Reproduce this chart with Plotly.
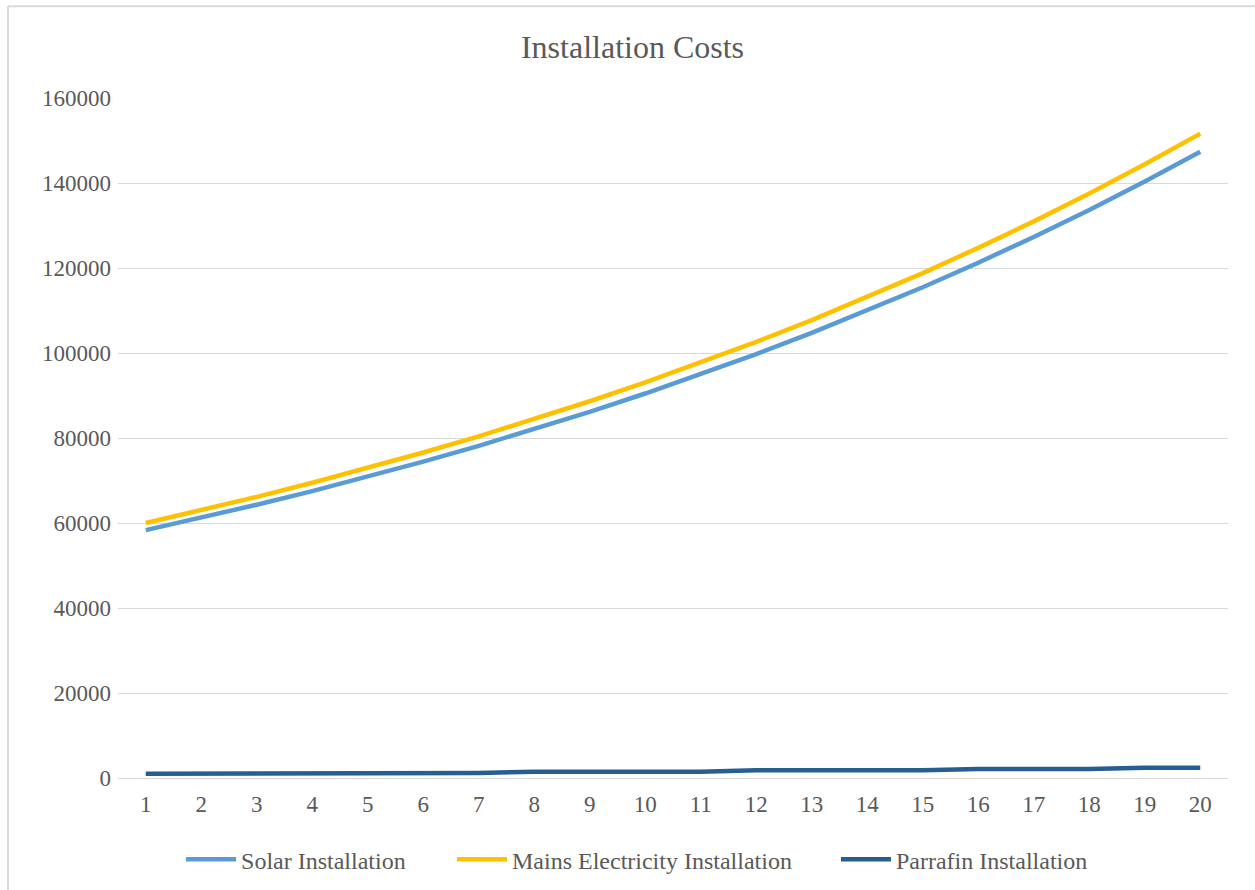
import plotly.graph_objects as go

# Year index for the 20-year cost horizon
years = list(range(1, 21))
year_labels = [str(y) for y in years]

# Cumulative installation cost per option (currency units)
solar = [58320, 61240, 64300, 67510, 70890, 74430, 78150, 82060, 86170, 90470,
         95000, 99750, 104730, 109970, 115470, 121240, 127300, 133670, 140350, 147370]
mains = [60000, 63000, 66150, 69460, 72930, 76580, 80400, 84420, 88650, 93080,
         97730, 102620, 107750, 113140, 118800, 124740, 130970, 137520, 144400, 151620]
paraffin = [1000, 1000, 1000, 1200, 1200, 1200, 1200, 1500, 1500, 1500,
            1500, 1800, 1800, 1800, 1800, 2100, 2100, 2100, 2400, 2400]

y_ticks = [0, 20000, 40000, 60000, 80000, 100000, 120000, 140000, 160000]

FONT = "Liberation Serif"
TEXT = "#595959"
GRID = "#D9D9D9"

fig = go.Figure()
series = [
    ("Solar Installation", solar, "#5B9BD5", "legend"),
    ("Mains Electricity Installation", mains, "#FFC000", "legend2"),
    ("Parrafin Installation", paraffin, "#255E91", "legend3"),
]
for name, vals, color, leg in series:
    fig.add_trace(go.Scatter(
        x=years, y=vals, name=name, mode="lines",
        line=dict(color=color, width=4.5),
        legend=leg,
    ))

# Light frame along the top and left edges of the chart area
fig.add_shape(type="line", xref="paper", yref="paper",
              x0=-0.0991, x1=1.03, y0=1.135, y1=1.135,
              line=dict(color=GRID, width=2))
fig.add_shape(type="line", xref="paper", yref="paper",
              x0=-0.0991, x1=-0.0991, y0=-0.17, y1=1.135,
              line=dict(color=GRID, width=2))

legend_style = dict(orientation="h", xanchor="left", y=-0.12, yanchor="middle",
                    font=dict(family=FONT, size=24, color=TEXT),
                    itemwidth=50, bgcolor="rgba(0,0,0,0)")

fig.update_layout(
    width=1255, height=890,
    paper_bgcolor="white", plot_bgcolor="white",
    margin=dict(l=118, r=27, t=98, b=112, autoexpand=False),
    title=dict(text="Installation Costs", x=0.504, xref="container", xanchor="center",
               y=1 - 47 / 890, yref="container", yanchor="middle",
               font=dict(family=FONT, size=32, color=TEXT)),
    font=dict(family=FONT, color=TEXT),
    xaxis=dict(range=[0.5, 20.5], tickmode="array", tickvals=years, ticktext=year_labels,
               showgrid=False, zeroline=False, showline=False, ticks="",
               tickfont=dict(family=FONT, size=23, color=TEXT), ticklabelstandoff=10),
    yaxis=dict(range=[0, 160000], tickmode="array", tickvals=y_ticks,
               ticktext=[str(v) for v in y_ticks],
               showgrid=True, gridcolor=GRID, gridwidth=1,
               zeroline=True, zerolinecolor=GRID, zerolinewidth=1,
               showline=False, ticks="",
               tickfont=dict(family=FONT, size=23, color=TEXT), ticklabelstandoff=6),
    legend=dict(x=0.0568, **legend_style),
    legend2=dict(x=0.3009, **legend_style),
    legend3=dict(x=0.6468, **legend_style),
    showlegend=True,
)

fig.write_html("out.html")
